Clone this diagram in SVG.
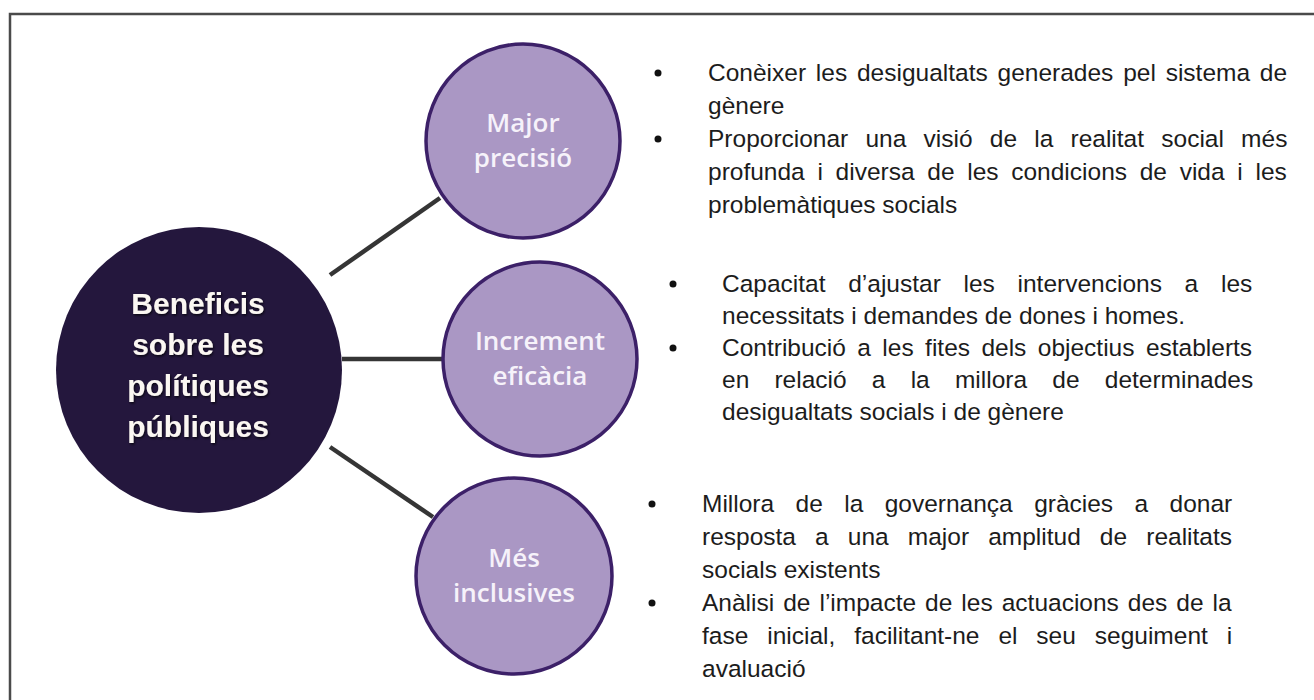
<svg xmlns="http://www.w3.org/2000/svg" width="1314" height="700" viewBox="0 0 1314 700">
<defs>
<filter id="tshadow" x="-10%" y="-20%" width="120%" height="150%">
<feDropShadow dx="1" dy="1.5" stdDeviation="0.8" flood-color="#000" flood-opacity="0.7"/>
</filter>
<style>
.frame{fill:none;stroke:#4a4a4a;stroke-width:2.5}
.hub{fill:#24173d}
.hubtxt{font-family:"Liberation Sans",Arial,sans-serif;font-weight:bold;font-size:30px;fill:#fbf7f2;text-anchor:middle}
.sat{fill:#aa97c4;stroke:#3c2068;stroke-width:3.5}
.sattxt{font-family:"Open Sans","Noto Sans",sans-serif;font-weight:600;font-size:26px;fill:#f6f2fa;text-anchor:middle}
.conn{stroke:#353535;stroke-width:4.5;fill:none}
.item{font-family:"Liberation Sans",Arial,sans-serif;font-size:24.5px;fill:#1c1c1c;font-kerning:none}
.bullet{fill:#111}
</style>
</defs>
<rect width="1314" height="700" fill="#ffffff"/>
<path class="frame" d="M10,700 V14 H1314"/>

<g id="connectors">
<line class="conn" x1="330" y1="275" x2="440" y2="198"/>
<line class="conn" x1="342" y1="359" x2="443" y2="359"/>
<line class="conn" x1="330" y1="447" x2="433" y2="517"/>
</g>

<g id="node-beneficis">
<circle class="hub" cx="199" cy="370" r="143"/>
<g filter="url(#tshadow)">
<text class="hubtxt" x="198" y="314">Beneficis</text>
<text class="hubtxt" x="198" y="355">sobre les</text>
<text class="hubtxt" x="198" y="396">polítiques</text>
<text class="hubtxt" x="198" y="437">públiques</text>
</g>
</g>

<g id="node-major-precisio">
<circle class="sat" cx="523" cy="141" r="97"/>
<text class="sattxt" x="523" y="132">Major</text>
<text class="sattxt" x="523" y="167">precisió</text>
</g>

<g id="node-increment-eficacia">
<circle class="sat" cx="540" cy="359" r="97"/>
<text class="sattxt" x="540" y="350">Increment</text>
<text class="sattxt" x="540" y="385">eficàcia</text>
</g>

<g id="node-mes-inclusives">
<circle class="sat" cx="514" cy="576" r="98"/>
<text class="sattxt" x="514" y="567">Més</text>
<text class="sattxt" x="514" y="602">inclusives</text>
</g>

<g id="list-major-precisio">
<circle class="bullet" cx="658" cy="73" r="3.5"/>
<circle class="bullet" cx="658" cy="139" r="3.5"/>
<text class="item" x="708" y="81" style="word-spacing:3px">Conèixer les desigualtats generades pel sistema de</text>
<text class="item" x="708" y="114">gènere</text>
<text class="item" x="708" y="147" style="word-spacing:10.4px">Proporcionar una visió de la realitat social més</text>
<text class="item" x="708" y="180" style="word-spacing:5.9px">profunda i diversa de les condicions de vida i les</text>
<text class="item" x="708" y="213">problemàtiques socials</text>
</g>

<g id="list-increment-eficacia">
<circle class="bullet" cx="673" cy="284" r="3.5"/>
<circle class="bullet" cx="673" cy="348" r="3.5"/>
<text class="item" x="722" y="292" style="word-spacing:15.9px">Capacitat d’ajustar les intervencions a les</text>
<text class="item" x="722" y="324">necessitats i demandes de dones i homes.</text>
<text class="item" x="722" y="356" style="word-spacing:4.6px">Contribució a les fites dels objectius establerts</text>
<text class="item" x="722" y="388" style="word-spacing:18.4px">en relació a la millora de determinades</text>
<text class="item" x="722" y="420">desigualtats socials i de gènere</text>
</g>

<g id="list-mes-inclusives">
<circle class="bullet" cx="652" cy="504" r="3.5"/>
<circle class="bullet" cx="652" cy="603" r="3.5"/>
<text class="item" x="702" y="512" style="word-spacing:14.6px">Millora de la governança gràcies a donar</text>
<text class="item" x="702" y="545" style="word-spacing:12.3px">resposta a una major amplitud de realitats</text>
<text class="item" x="702" y="578">socials existents</text>
<text class="item" x="702" y="611" style="word-spacing:2.2px">Anàlisi de l’impacte de les actuacions des de la</text>
<text class="item" x="702" y="644" style="word-spacing:12.1px">fase inicial, facilitant-ne el seu seguiment i</text>
<text class="item" x="702" y="677">avaluació</text>
</g>
</svg>
